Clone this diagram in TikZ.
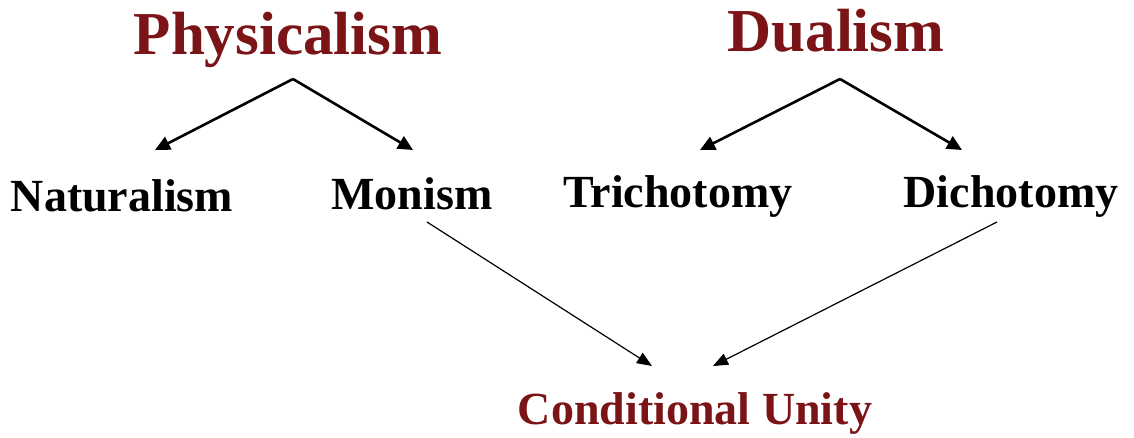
\documentclass[tikz,border=0pt]{standalone}
\usepackage{fontspec}
\setmainfont{Liberation Serif}
\usetikzlibrary{arrows.meta}
\definecolor{maroon}{HTML}{7B1416}
\begin{document}
\begin{tikzpicture}[x=1pt,y=-1pt,
  title/.style={anchor=base,inner sep=0pt,text=maroon,font=\fontsize{61}{70}\selectfont\bfseries},
  sub/.style={anchor=base,inner sep=0pt,text=black,font=\fontsize{46}{54}\selectfont\bfseries},
  res/.style={anchor=base,inner sep=0pt,text=maroon,font=\fontsize{46}{54}\selectfont\bfseries},
  thickarrow/.style={line width=2.6pt,-{Triangle[length=15pt,width=14pt]}},
  thinarrow/.style={line width=1.2pt,-{Triangle[length=15pt,width=12pt]}}]
\useasboundingbox (0,0) rectangle (1134,438);
\node[title] (phys) at (288,55) {Physicalism};
\node[title] (dual) at (836,52) {Dualism};
\node[sub] (nat) at (122,212) {Naturalism};
\node[sub] (mon) at (412,210) {Monism};
\node[sub] (tri) at (678,208) {Trichotomy};
\node[sub] (dic) at (1011,208) {Dichotomy};
\node[res] (cu) at (695,424) {Conditional Unity};
\coordinate (papex) at (293,79);
\coordinate (dapex) at (840,79);
\coordinate (tnat) at (155,150);
\coordinate (tmon) at (413,150);
\coordinate (ttri) at (700,150);
\coordinate (tdic) at (962,150);
\coordinate (smon) at (427,222);
\coordinate (sdic) at (997,222);
\coordinate (tcu1) at (652,366);
\coordinate (tcu2) at (713,366);
\draw[thickarrow] (papex) -- (tnat);
\draw[thickarrow] (papex) -- (tmon);
\draw[thickarrow] (dapex) -- (ttri);
\draw[thickarrow] (dapex) -- (tdic);
\draw[thinarrow] (smon) -- (tcu1);
\draw[thinarrow] (sdic) -- (tcu2);
\end{tikzpicture}
\end{document}
